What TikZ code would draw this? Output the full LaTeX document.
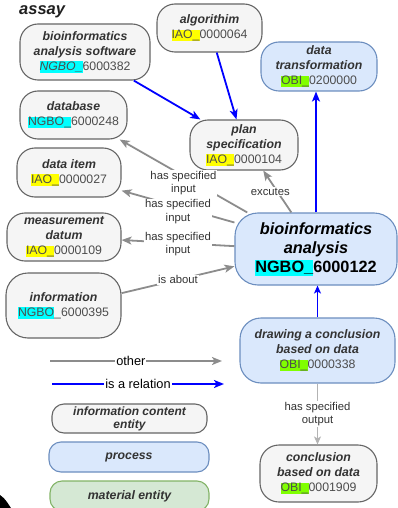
\documentclass[tikz,border=0pt]{standalone}
\usepackage{fontspec}
\setmainfont{Liberation Sans}
\usetikzlibrary{arrows.meta,calc}

\definecolor{icefill}{HTML}{F5F5F5}
\definecolor{iceline}{HTML}{666666}
\definecolor{procfill}{HTML}{DAE8FC}
\definecolor{procline}{HTML}{6C8EBF}
\definecolor{matfill}{HTML}{D5E8D4}
\definecolor{matline}{HTML}{82B366}
\definecolor{hlcyan}{HTML}{00FFFF}
\definecolor{hlyellow}{HTML}{FFFF00}
\definecolor{hlgreen}{HTML}{80FF00}
\definecolor{titlegrey}{HTML}{333333}
\definecolor{idgrey}{HTML}{4D4D4D}
\definecolor{relblue}{HTML}{0000FF}
\definecolor{othergrey}{HTML}{8C8C8C}
\definecolor{outgrey}{HTML}{B3B3B3}

% identifier with a highlighted prefix
\newcommand\hlid[3]{{\setlength{\fboxsep}{0pt}\colorbox{#1}{\rule[-0.2em]{0pt}{0.94em}#2}}#3}
\newcommand\ttl[1]{{\bfseries\itshape\color{titlegrey}#1}}

\tikzset{
  box/.style={rectangle, rounded corners=18pt, line width=1.1pt, inner sep=0pt,
    align=center, text=idgrey, font=\fontsize{12.3}{15}\selectfont},
  ice/.style={box, fill=icefill, draw=iceline},
  proc/.style={box, fill=procfill, draw=procline},
  mat/.style={box, fill=matfill, draw=matline},
  legendbox/.style={rounded corners=12pt, minimum width=156pt, minimum height=30pt},
  rel/.style={draw=relblue, line width=1.8pt, -{Stealth[length=10pt,width=8pt,inset=2.5pt]}},
  thinrel/.style={draw=relblue, line width=1.3pt, -{Stealth[length=8pt,width=7pt,inset=2pt]}},
  otherrel/.style={draw=othergrey, line width=1.8pt, -{Stealth[length=10pt,width=8pt,inset=2.5pt]}},
  outrel/.style={draw=outgrey, line width=1pt, -{Stealth[length=8pt,width=7pt,inset=2pt]}},
  elabel/.style={fill=white, inner sep=1pt, align=center, text=titlegrey,
    font=\fontsize{11.3}{13.5}\selectfont},
  leglabel/.style={fill=white, inner sep=1pt, text=black, font=\fontsize{12.8}{15}\selectfont},
}

\begin{document}
\begin{tikzpicture}[x=1pt, y=-1pt]
\useasboundingbox (0,0) rectangle (398,508);
\clip (0,0) rectangle (398,508);

% heading
\node[anchor=base west, inner sep=0pt, font=\fontsize{16.5}{19}\selectfont\bfseries\itshape, text=black!88] (assay) at (19,15) {assay};

% entities
\node[ice, minimum width=130pt, minimum height=56pt] (sw) at (85,52)
  {\ttl{bioinformatics}\\\ttl{analysis software}\\\hlid{hlcyan}{\itshape NGBO\_}{6000382}};
\node[ice, minimum width=105pt, minimum height=48pt] (algo) at (209.5,28)
  {\ttl{algorithim}\\\hlid{hlyellow}{IAO\_}{0000064}};
\node[proc, minimum width=116pt, minimum height=49pt] (dt) at (319,66.5)
  {\ttl{data}\\\ttl{transformation}\\\hlid{hlgreen}{OBI\_}{0200000}};
\node[ice, minimum width=107pt, minimum height=48pt] (db) at (73.5,115)
  {\ttl{database}\\\hlid{hlcyan}{NGBO\_}{6000248}};
\node[ice, minimum width=108pt, minimum height=50pt] (plan) at (244,145)
  {\ttl{plan}\\\ttl{specification}\\\hlid{hlyellow}{IAO\_}{0000104}};
\node[ice, minimum width=104pt, minimum height=49pt] (item) at (69,172.5)
  {\ttl{data item}\\\hlid{hlyellow}{IAO\_}{0000027}};
\node[ice, minimum width=114pt, minimum height=48pt] (meas) at (64,237)
  {\ttl{measurement}\\\ttl{datum}\\\hlid{hlyellow}{IAO\_}{0000109}};
\node[ice, minimum width=115pt, minimum height=65pt, rounded corners=22pt] (info) at (63.5,305.5)
  {\ttl{information}\\\hlid{hlcyan}{NGBO}{\_6000395}};
\node[proc, minimum width=162pt, minimum height=72pt, rounded corners=23pt, text=black,
      font=\fontsize{16.3}{19}\selectfont\bfseries] (ba) at (316,249)
  {{\itshape bioinformatics}\\{\itshape analysis}\\\hlid{hlcyan}{NGBO\_}{6000122}};
\node[proc, minimum width=155pt, minimum height=65pt, rounded corners=21pt] (dc) at (317.5,350.5)
  {\ttl{drawing a conclusion}\\\ttl{based on data}\\\hlid{hlgreen}{OBI\_}{0000338}};
\node[ice, minimum width=117pt, minimum height=57pt, rounded corners=19pt] (cc) at (318.5,473.5)
  {\ttl{conclusion}\\\ttl{based on data}\\\hlid{hlgreen}{OBI\_}{0001909}};

% is-a relations
\draw[rel] (sw) -- (plan);
\draw[rel] (algo) -- (plan);
\draw[rel] (ba.north) -- (ba.north |- dt.south);
\draw[thinrel] (dc.north) -- (dc.north |- ba.south);

% other relations
\draw[otherrel] (ba.152) -- node[elabel, yshift=-7pt] {has specified\\input} (db.-28);
\draw[otherrel] (ba.162) -- node[elabel, yshift=-5pt] {has specified\\input} (item.-19);
\draw[otherrel] (ba.178) -- node[elabel, yshift=-1pt] {has specified\\input} (meas.-3);
\draw[otherrel] (info.12) -- node[elabel] {is about} (ba.192);
\draw[otherrel] (ba.124) -- node[elabel, xshift=-7pt] {excutes} (plan.-53);
\draw[outrel] (dc.south) -- node[elabel] {has specified\\output} (dc.south |- cc.north);

% legend
\coordinate (oa) at (50,361);
\coordinate (ob) at (222,361);
\coordinate (ra) at (52,384);
\coordinate (rb) at (224,384);
\draw[otherrel] (oa) -- node[leglabel, pos=0.47] {other} (ob);
\draw[rel] (ra) -- node[leglabel] {is a relation} (rb);
\node[ice, legendbox, minimum width=155pt, minimum height=29pt,
      font=\fontsize{12}{13}\selectfont] (lice) at (129.5,418.5)
  {\ttl{information content}\\\ttl{entity}};
\node[proc, legendbox, minimum width=160pt] (lproc) at (129,457) {\ttl{process}};
\node[mat, legendbox, minimum width=159pt] (lmat) at (129.5,496) {\ttl{material entity}};

% dark corner at the lower left
\fill[black] (0,495) .. controls (5,499) .. (11,508) -- (0,508) -- cycle;
\end{tikzpicture}
\end{document}
